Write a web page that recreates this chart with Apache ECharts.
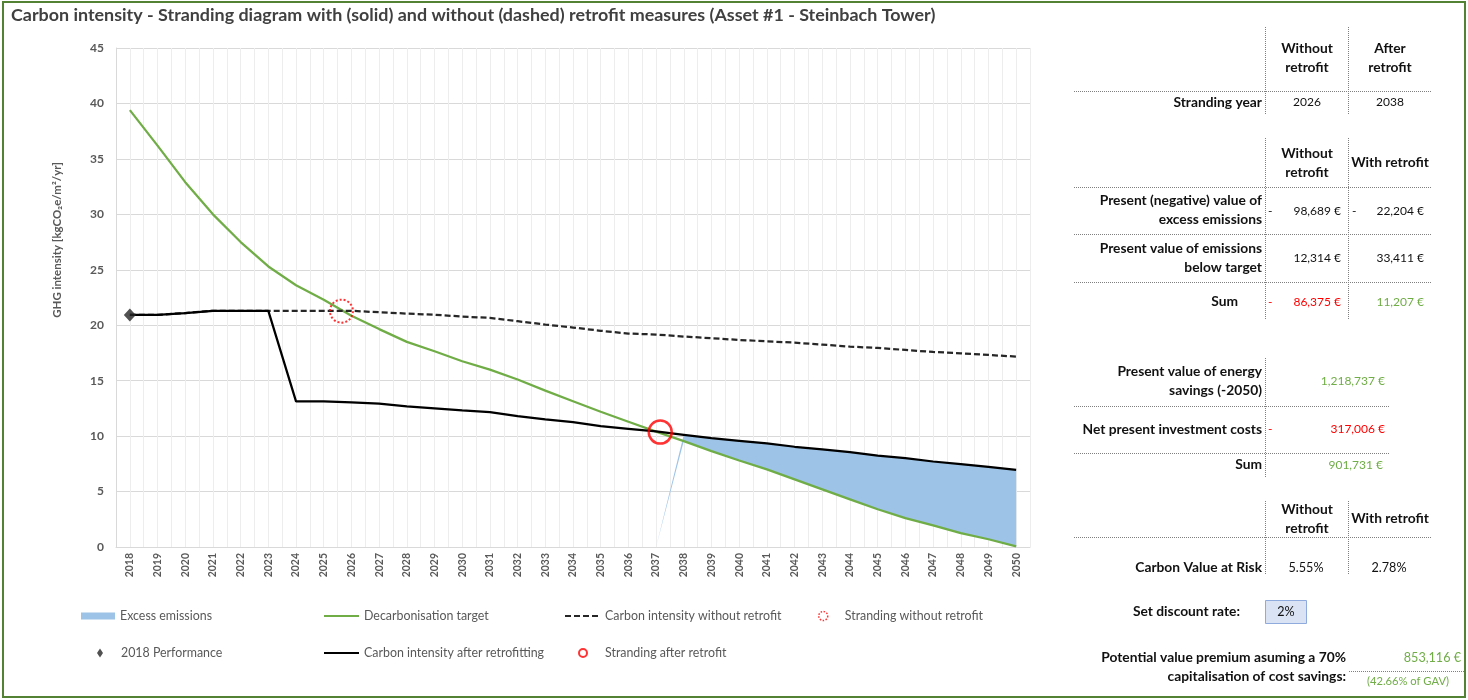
<!DOCTYPE html>
<html>
<head>
<meta charset="utf-8">
<script src="https://cdn.jsdelivr.net/npm/echarts@6/dist/echarts.min.js"></script>
<style>
  html, body { margin: 0; padding: 0; background: #ffffff; }
  #chart { width: 1468px; height: 700px; }
</style>
</head>
<body>
<div id="chart"></div>
<script>
// ---- Chart data -------------------------------------------------------
const years = [2018, 2019, 2020, 2021, 2022, 2023, 2024, 2025, 2026, 2027, 2028,
  2029, 2030, 2031, 2032, 2033, 2034, 2035, 2036, 2037, 2038, 2039, 2040, 2041,
  2042, 2043, 2044, 2045, 2046, 2047, 2048, 2049, 2050];

// Decarbonisation pathway (kgCO2e/m²/yr)
const decarbonisationTarget = [39.4, 36.2, 32.9, 30.0, 27.5, 25.3, 23.6, 22.3, 20.85,
  19.65, 18.5, 17.65, 16.75, 16.0, 15.1, 14.1, 13.15, 12.2, 11.3, 10.4, 9.55, 8.65,
  7.8, 7.0, 6.1, 5.2, 4.3, 3.4, 2.6, 1.95, 1.25, 0.7, 0.05];

// Asset intensity if no measures are taken
const intensityWithoutRetrofit = [20.93, 20.93, 21.1, 21.3, 21.3, 21.3, 21.3, 21.3,
  21.3, 21.17, 21.05, 20.95, 20.78, 20.66, 20.36, 20.06, 19.79, 19.5, 19.25, 19.16,
  18.98, 18.83, 18.67, 18.55, 18.43, 18.25, 18.07, 17.95, 17.77, 17.59, 17.47, 17.32, 17.17];

// Asset intensity with the 2023/24 retrofit
const intensityAfterRetrofit = [20.93, 20.93, 21.1, 21.3, 21.3, 21.3, 13.13, 13.13,
  13.04, 12.92, 12.68, 12.5, 12.32, 12.17, 11.8, 11.5, 11.27, 10.9, 10.66, 10.42,
  10.12, 9.82, 9.58, 9.34, 9.04, 8.8, 8.55, 8.25, 8.01, 7.71, 7.47, 7.23, 6.96];

const performance2018 = [2018, 20.93];
const strandingWithoutRetrofit = [2025.64, 21.27];
const strandingAfterRetrofit = [2037.15, 10.36];
const excessFromYear = 2038;   // first year above the pathway after retrofit

const yMin = 0, yMax = 45, yStep = 5;

// ---- Side tables --------------------------------------------------------
const strandingHeader = ['Without\nretrofit', 'After\nretrofit'];
const strandingYears = ['2026', '2038'];
const valueHeader = ['Without\nretrofit', 'With retrofit'];
const excessValues = ['98,689 €', '22,204 €'];
const belowTargetValues = ['12,314 €', '33,411 €'];
const sumValues = ['86,375 €', '11,207 €'];
const energySavings = '1,218,737 €';
const investmentCosts = '317,006 €';
const retrofitSum = '901,731 €';
const carbonVaR = ['5.55%', '2.78%'];
const discountRate = '2%';
const valuePremium = '853,116 €';
const valuePremiumShare = '(42.66% of GAV)';

// ---- Helpers ------------------------------------------------------------
const FONT = 'Lato, "Open Sans", sans-serif';
const GREEN = '#70ad47';
const RED = '#ff0000';
const INK = '#111111';

const pairs = (vals) => years.map((y, i) => [y, vals[i]]);

// excess band rows: [year, pathway, asset]; the year before starts from zero
const excessBand = [];
years.forEach((y, i) => {
  if (y === excessFromYear - 1) excessBand.push([y, 0, 0]);
  else if (y >= excessFromYear) excessBand.push([y, decarbonisationTarget[i], intensityAfterRetrofit[i]]);
});

function renderExcess(params, api) {
  if (params.dataIndex !== 0) return null;
  const top = excessBand.map((r) => api.coord([r[0], r[2]]));
  const bottom = excessBand.map((r) => api.coord([r[0], r[1]])).reverse();
  return {
    type: 'polygon',
    shape: { points: top.concat(bottom) },
    style: { fill: '#9dc3e6', stroke: 'none' }
  };
}

function txt(x, y, text, o = {}) {
  return {
    type: 'text', x, y, silent: true, z: 10,
    style: {
      text,
      fill: o.fill || INK,
      font: (o.bold ? 'bold ' : '') + (o.size || 12) + 'px ' + FONT,
      align: o.align || 'center',
      verticalAlign: 'middle',
      lineHeight: o.lh || 19
    }
  };
}
function lbl(x, y, text, o = {}) {
  return txt(x, y, text, Object.assign({ bold: true, size: 13.8, align: 'right' }, o));
}
function dotLine(x1, y1, x2, y2) {
  return {
    type: 'line', silent: true, z: 10,
    shape: { x1, y1, x2, y2 },
    style: { stroke: '#7f7f7f', lineWidth: 1, lineDash: [1, 1] }
  };
}
const V1 = 1265.5, V2 = 1348.5, C1 = 1307, C2 = 1390, LR = 1262, T1 = 1341, T2 = 1424;

const graphics = [
  // outer frame
  { type: 'rect', silent: true, shape: { x: 3, y: 2, width: 1462, height: 695 },
    style: { fill: 'none', stroke: '#548235', lineWidth: 2 } },
  // y-axis title
  { type: 'text', x: 57, y: 240, rotation: Math.PI / 2, silent: true,
    style: { text: 'GHG intensity [kgCO₂e/m²/yr]', fill: '#595959',
      font: 'bold 11.5px ' + FONT, align: 'center', verticalAlign: 'middle' } },

  // stranding year table
  dotLine(V1, 27, V1, 115), dotLine(V2, 27, V2, 115), dotLine(1074, 91.5, 1432, 91.5),
  lbl(C1, 58.5, strandingHeader[0], { align: 'center' }),
  lbl(C2, 58.5, strandingHeader[1], { align: 'center' }),
  lbl(LR, 102.5, 'Stranding year'),
  txt(C1, 102.5, strandingYears[0]),
  txt(C2, 102.5, strandingYears[1]),

  // present value table
  dotLine(V1, 138, V1, 320), dotLine(V2, 138, V2, 320),
  dotLine(1074, 187.5, 1432, 187.5), dotLine(1074, 234.5, 1432, 234.5), dotLine(1074, 282.5, 1432, 282.5),
  lbl(C1, 163, valueHeader[0], { align: 'center' }),
  lbl(C2, 163, valueHeader[1], { align: 'center' }),
  lbl(LR, 210.5, 'Present (negative) value of\nexcess emissions'),
  txt(1268, 211, '-', { align: 'left' }),
  txt(T1, 211, excessValues[0], { align: 'right' }),
  txt(1352, 211, '-', { align: 'left' }),
  txt(T2, 211, excessValues[1], { align: 'right' }),
  lbl(LR, 258, 'Present value of emissions\nbelow target'),
  txt(T1, 258, belowTargetValues[0], { align: 'right' }),
  txt(T2, 258, belowTargetValues[1], { align: 'right' }),
  lbl(1238, 302, 'Sum'),
  txt(1268, 302, '-', { align: 'left', fill: RED }),
  txt(T1, 302, sumValues[0], { align: 'right', fill: RED }),
  txt(T2, 302, sumValues[1], { align: 'right', fill: GREEN }),

  // energy savings table
  dotLine(V1, 358, V1, 477),
  dotLine(1074, 406.5, 1390, 406.5), dotLine(1074, 453.5, 1390, 453.5),
  lbl(LR, 381, 'Present value of energy\nsavings (-2050)'),
  txt(1385, 381.5, energySavings, { align: 'right', fill: GREEN }),
  lbl(LR, 429.5, 'Net present investment costs'),
  txt(1268, 429.5, '-', { align: 'left', fill: RED }),
  txt(1385, 429.5, investmentCosts, { align: 'right', fill: RED }),
  lbl(LR, 465, 'Sum'),
  txt(1383, 465, retrofitSum, { align: 'right', fill: GREEN }),

  // carbon value at risk table
  dotLine(V1, 501, V1, 575), dotLine(V2, 501, V2, 575), dotLine(1074, 537.5, 1432, 537.5),
  lbl(C1, 519, valueHeader[0], { align: 'center' }),
  lbl(C2, 518.5, valueHeader[1], { align: 'center' }),
  lbl(LR, 567.5, 'Carbon Value at Risk'),
  txt(1306, 567.5, carbonVaR[0], { size: 12.6 }),
  txt(1389, 567.5, carbonVaR[1], { size: 12.6 }),

  // discount rate input
  lbl(1240, 612, 'Set discount rate:'),
  { type: 'rect', silent: true, shape: { x: 1265.5, y: 600.5, width: 41, height: 23 },
    style: { fill: '#dae3f3', stroke: '#8faadc', lineWidth: 1 } },
  txt(1286, 612, discountRate, { size: 12.6 }),

  // value premium
  lbl(1346, 667, 'Potential value premium asuming a 70%\ncapitalisation of cost savings:'),
  txt(1461, 658, valuePremium, { align: 'right', fill: GREEN, size: 12.6 }),
  dotLine(1349, 671.5, 1465, 671.5),
  txt(1408, 681, valuePremiumShare, { fill: GREEN, size: 11.2 })
];

// ---- Legend -------------------------------------------------------------
const legendText = { color: '#595959', fontSize: 12.4, fontFamily: FONT, lineHeight: 14 };
function legendAt(left, top, item, w, h, pad) {
  return {
    left, top, padding: 0, itemGap: 0, itemWidth: w, itemHeight: h,
    selectedMode: false, data: [item],
    textStyle: Object.assign({}, legendText, pad ? { padding: [0, 0, 0, pad] } : {})
  };
}
const lineEntry = (name) => ({ name, itemStyle: { opacity: 0 } });
const legends = [
  legendAt(81, 609, { name: 'Excess emissions', icon: 'rect', itemStyle: { color: '#9dc3e6' } }, 34, 7),
  legendAt(323, 609, lineEntry('Decarbonisation target'), 35, 14),
  legendAt(564, 609, lineEntry('Carbon intensity without retrofit'), 35, 14),
  legendAt(818, 609, { name: 'Stranding without retrofit', itemStyle: { borderWidth: 1.5, borderType: [1.5, 1.5] } }, 9, 9, 12),
  legendAt(97, 646, '2018 Performance', 6, 9, 13),
  legendAt(323, 646, lineEntry('Carbon intensity after retrofitting'), 35, 14),
  legendAt(578, 646, { name: 'Stranding after retrofit', itemStyle: { borderWidth: 2 } }, 8, 10, 13)
];

// ---- Chart --------------------------------------------------------------
const chart = echarts.init(document.getElementById('chart'), null, { renderer: 'canvas' });
chart.setOption({
  animation: false,
  backgroundColor: '#ffffff',
  textStyle: { fontFamily: FONT },
  title: {
    text: 'Carbon intensity - Stranding diagram with (solid) and without (dashed) retrofit measures (Asset #1 - Steinbach Tower)',
    left: 11, top: 6, padding: 0,
    textStyle: { fontFamily: FONT, fontSize: 17.9, fontWeight: 'bold', color: '#404040' }
  },
  legend: legends,
  graphic: graphics,
  grid: { left: 116, right: 438, top: 48, bottom: 153, outerBoundsMode: 'none' },
  xAxis: {
    type: 'value', min: 2017.5, max: 2050.5, interval: 0.5,
    axisLine: { show: true, lineStyle: { color: '#d9d9d9', width: 1 } },
    axisTick: { show: false },
    splitLine: { show: true, lineStyle: { color: '#ededed', width: 1 } },
    axisLabel: {
      rotate: 90, margin: 6, fontSize: 10.5, fontWeight: 'bold', color: '#595959',
      fontFamily: FONT, hideOverlap: false,
      formatter: (v) => (Number.isInteger(v) ? String(v) : '')
    }
  },
  yAxis: {
    type: 'value', min: yMin, max: yMax, interval: yStep,
    axisLine: { show: true, lineStyle: { color: '#d9d9d9', width: 1 } },
    axisTick: { show: false },
    splitLine: { show: true, lineStyle: { color: '#d9d9d9', width: 1 } },
    axisLabel: { margin: 12, fontSize: 12, fontWeight: 'bold', color: '#595959', fontFamily: FONT }
  },
  series: [
    {
      name: 'Excess emissions', type: 'custom', data: excessBand,
      encode: { x: 0, y: [1, 2] }, renderItem: renderExcess,
      silent: true, z: 1, itemStyle: { color: '#9dc3e6' }
    },
    {
      name: 'Decarbonisation target', type: 'line', data: pairs(decarbonisationTarget),
      symbol: 'none', z: 3, itemStyle: { color: GREEN },
      lineStyle: { color: GREEN, width: 2.25 }
    },
    {
      name: 'Carbon intensity without retrofit', type: 'line', data: pairs(intensityWithoutRetrofit),
      symbol: 'none', z: 4, itemStyle: { color: '#262626' },
      lineStyle: { color: '#262626', width: 2.25, type: [6, 3] }
    },
    {
      name: 'Carbon intensity after retrofitting', type: 'line', data: pairs(intensityAfterRetrofit),
      symbol: 'none', z: 5, itemStyle: { color: '#000000' },
      lineStyle: { color: '#000000', width: 2.25 }
    },
    {
      name: '2018 Performance', type: 'scatter', data: [performance2018],
      symbol: 'diamond', symbolSize: [12, 13], z: 6,
      itemStyle: { color: '#262626' }
    },
    {
      name: 'Stranding without retrofit', type: 'scatter', data: [strandingWithoutRetrofit],
      symbol: 'circle', symbolSize: 23, z: 7,
      itemStyle: { color: 'rgba(255,255,255,0)', borderColor: RED, borderWidth: 2, borderType: [2, 2] }
    },
    {
      name: 'Stranding after retrofit', type: 'scatter', data: [strandingAfterRetrofit],
      symbol: 'circle', symbolSize: 23, z: 7,
      itemStyle: { color: 'rgba(255,255,255,0)', borderColor: RED, borderWidth: 2.5 }
    }
  ]
});
</script>
</body>
</html>
